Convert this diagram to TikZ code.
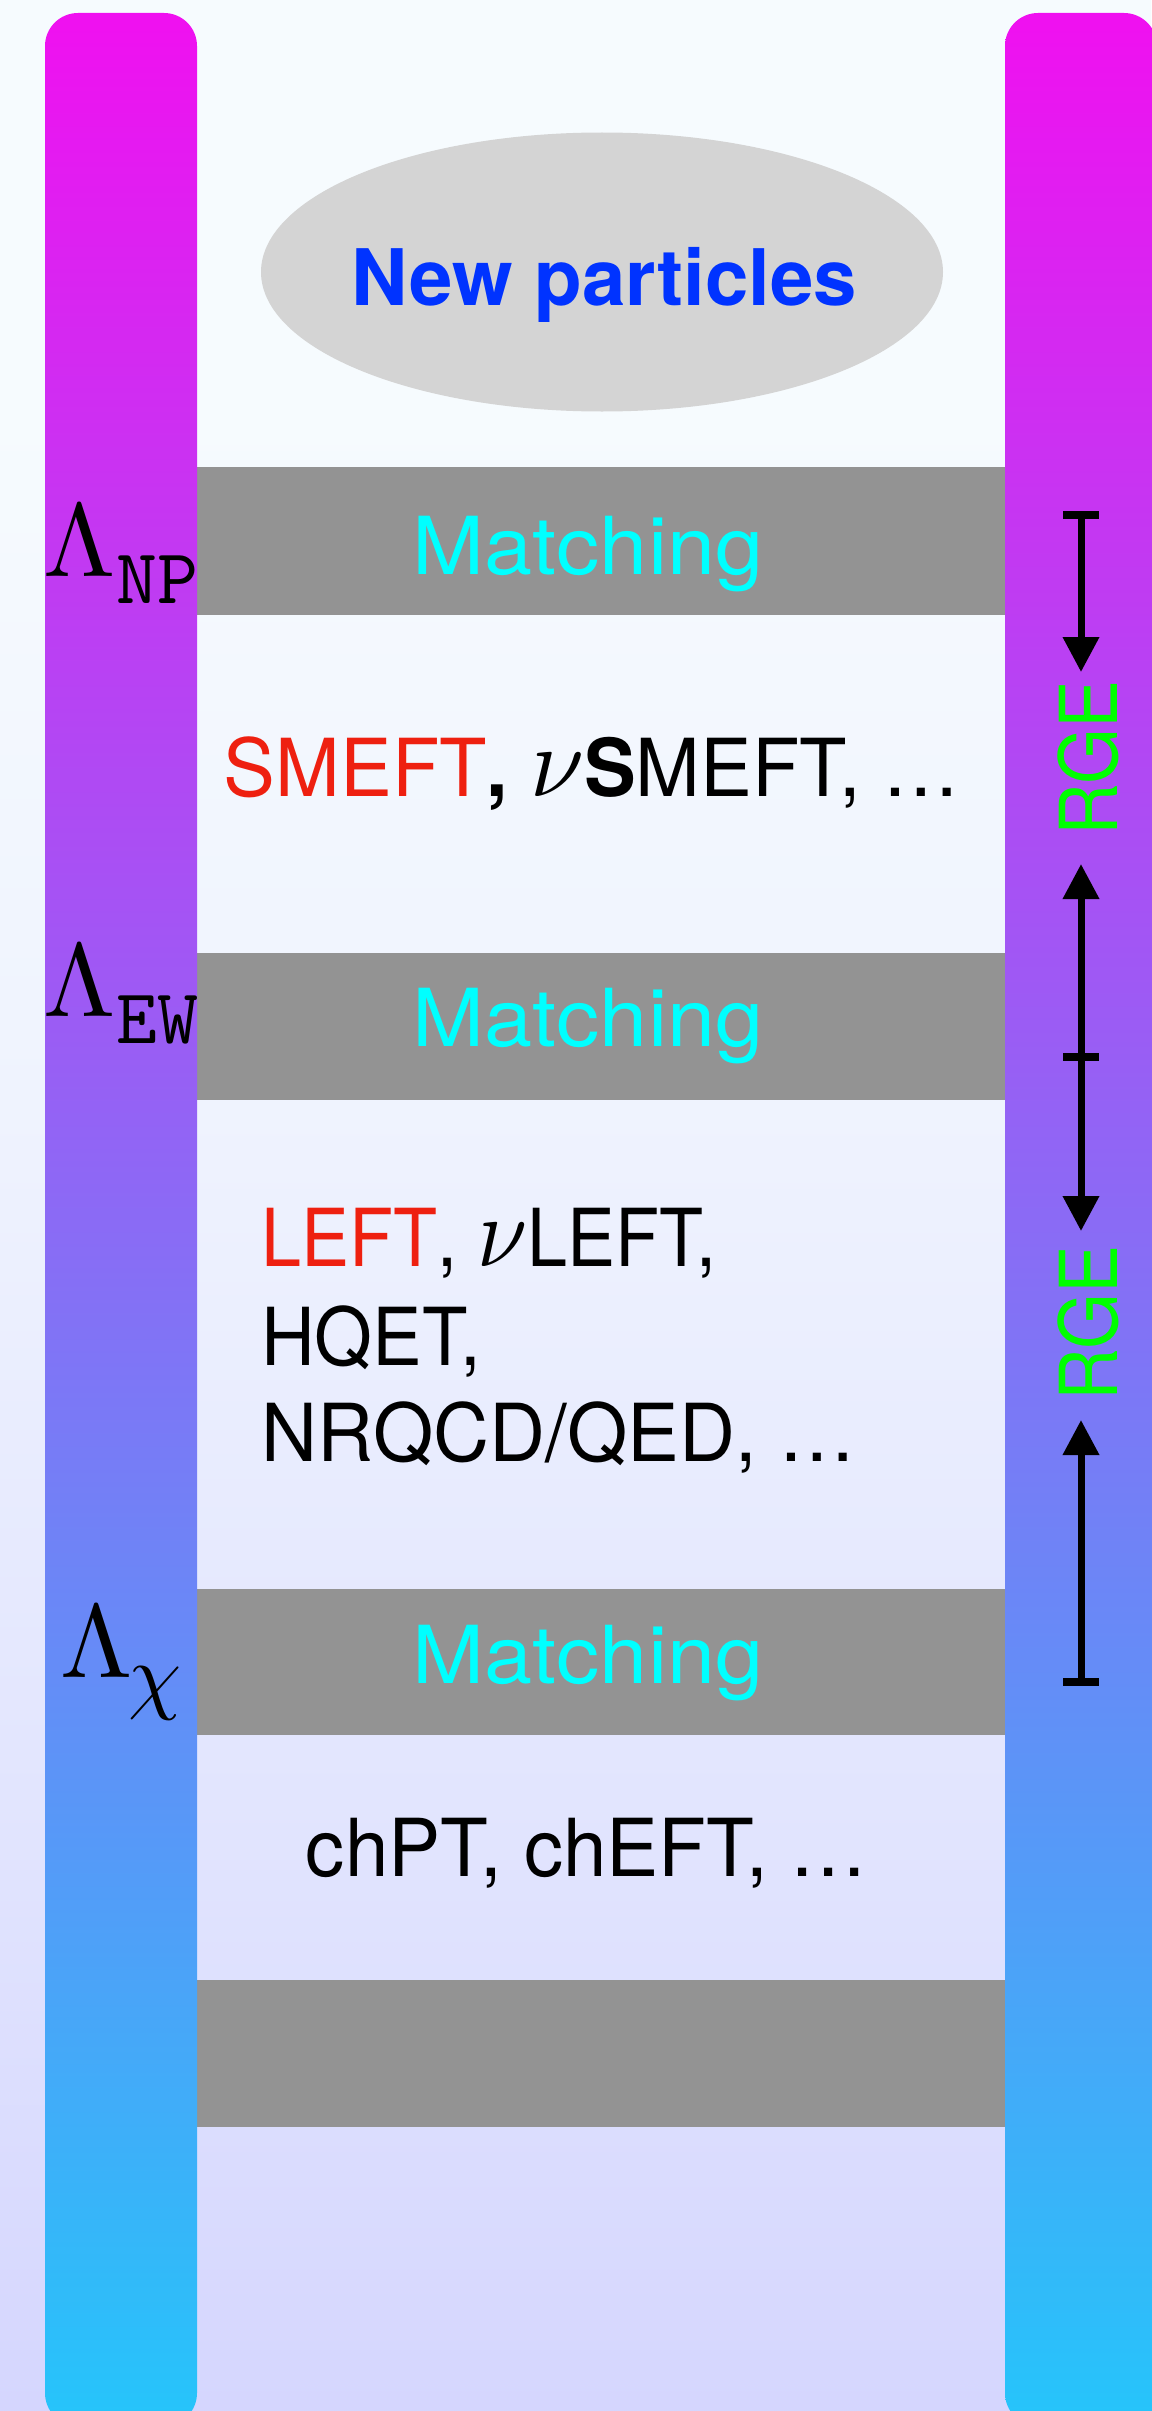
\documentclass[tikz,border=0pt]{standalone}
\usepackage[no-math]{fontspec}
\usepackage{graphicx}
\setmainfont{TeX Gyre Heros}
\usetikzlibrary{arrows.meta,shapes.geometric}

\definecolor{bgtop}{HTML}{F6FBFE}
\definecolor{bgmid}{HTML}{EFF3FE}
\definecolor{bglow}{HTML}{E2E5FE}
\definecolor{bgbot}{HTML}{D5D6FE}
\definecolor{bartop}{HTML}{F010F0}
\definecolor{barbot}{HTML}{25C5FA}
\definecolor{bandgray}{HTML}{939393}
\definecolor{blobgray}{HTML}{D4D4D4}
\definecolor{npblue}{HTML}{0033FF}
\definecolor{matchcyan}{HTML}{00FFFF}
\definecolor{rgegreen}{HTML}{00FF00}
\definecolor{eftred}{HTML}{EE2010}

% page background, lighter at the top
\pgfdeclareverticalshading{bgshade}{100bp}{color(0bp)=(bgbot); color(25bp)=(bgbot); color(37.7bp)=(bglow); color(52bp)=(bgmid); color(66.7bp)=(bgtop); color(100bp)=(bgtop)}
% scale bars, magenta at high energy to cyan at low energy
\pgfdeclareverticalshading{barshade}{100bp}{color(0bp)=(barbot); color(25bp)=(barbot); color(75bp)=(bartop); color(100bp)=(bartop)}

% horizontally squeezed or widened text
\newcommand{\sx}[2]{\scalebox{#1}[1]{#2}}
% large italic nu, set at 10pt and enlarged
\newcommand{\bignu}{\scalebox{10}{\fontsize{10}{12}\selectfont$\nu$}}

\tikzset{
  x=1pt, y=-1pt,
  bigtxt/.style={inner sep=0pt, font=\fontsize{80}{96}\selectfont},
  band/.style={rectangle, fill=bandgray, draw=none, minimum width=812pt, inner sep=0pt},
  matchtxt/.style={bigtxt, text=matchcyan, anchor=base},
  rgetxt/.style={bigtxt, text=rgegreen, rotate=90},
  scalelbl/.style={inner sep=0pt, anchor=base},
  rgearrow/.style={line width=7pt, -{Triangle[length=35pt,width=35pt]}},
  tickline/.style={line width=8pt},
}

\begin{document}
\begin{tikzpicture}
\useasboundingbox (0,0) rectangle (1151,2411);
\shade[shading=bgshade] (0,0) rectangle (1151,2411);

% horizontal matching bands
\node[band, minimum height=148pt] (b1) at (601,541) {};
\node[band, minimum height=147pt] (b2) at (601,1026.5) {};
\node[band, minimum height=146pt] (b3) at (601,1662) {};
\node[band, minimum height=147pt] (b4) at (601,2053.5) {};

% vertical scale bars
\shade[shading=barshade, rounded corners=33pt] (45,13) rectangle (197,2426);
\shade[shading=barshade, rounded corners=33pt] (1005,13) rectangle (1157,2426);

% UV completion
\node[ellipse, fill=blobgray, minimum width=682pt, minimum height=279pt, inner sep=0pt] (np) at (602,272) {};
\node[inner sep=0pt, anchor=base, text=npblue, font=\fontsize{78}{90}\selectfont\bfseries] (nptxt) at (604,305) {New particles};

% matching labels
\node[matchtxt] (m1) at (588,574) {\sx{1.08}{Matching}};
\node[matchtxt] (m2) at (588,1046) {\sx{1.08}{Matching}};
\node[matchtxt] (m3) at (588,1683) {\sx{1.08}{Matching}};

% effective theories
\node[bigtxt, anchor=base] (smeft) at (592,796)
  {\sx{0.97}{\textcolor{eftred}{SMEFT}\textbf{,} \bignu\textbf{S}MEFT, …}};
\node[bigtxt, anchor=base west] (left1) at (261,1266)
  {\sx{0.9}{\textcolor{eftred}{LEFT}, \bignu LEFT,}};
\node[bigtxt, anchor=base west] (left2) at (261,1365) {\sx{0.93}{HQET,}};
\node[bigtxt, anchor=base west] (left3) at (261,1461) {\sx{0.97}{NRQCD/QED, …}};
\node[bigtxt, anchor=base] (chpt) at (587,1876) {\sx{0.977}{chPT, chEFT, …}};

% scales
\node[scalelbl] (lnp) at (121,576)
  {\scalebox{10.4}{$\Lambda$}\raisebox{-27pt}{\scalebox{7.8}{$\mathtt{NP}$}}};
\node[scalelbl] (lew) at (121,1016)
  {\scalebox{10.4}{$\Lambda$}\raisebox{-27pt}{\scalebox{7.8}{$\mathtt{EW}$}}};
\node[scalelbl] (lchi) at (121,1677)
  {\scalebox{10.4}{$\Lambda$}\kern-5pt\raisebox{-26pt}{\scalebox{8.5}{$\chi$}}};

% running between the scales
\coordinate (t1) at (1081,515);
\coordinate (t2) at (1081,1057);
\coordinate (t3) at (1081,1682);
\coordinate (a1) at (1081,672);
\coordinate (a2) at (1081,864);
\coordinate (a3) at (1081,1231);
\coordinate (a4) at (1081,1420);
\node[rgetxt] (rge1) at (1088,758) {\sx{0.9}{RGE}};
\node[rgetxt] (rge2) at (1088,1323) {\sx{0.9}{RGE}};

\draw[rgearrow] (t1) -- (a1);
\draw[rgearrow] (t2) -- (a2);
\draw[rgearrow] (t2) -- (a3);
\draw[rgearrow] (t3) -- (a4);
\draw[tickline] ([xshift=-18pt]t1) -- ([xshift=18pt]t1);
\draw[tickline] ([xshift=-18pt]t2) -- ([xshift=18pt]t2);
\draw[tickline] ([xshift=-18pt]t3) -- ([xshift=18pt]t3);
\end{tikzpicture}
\end{document}
